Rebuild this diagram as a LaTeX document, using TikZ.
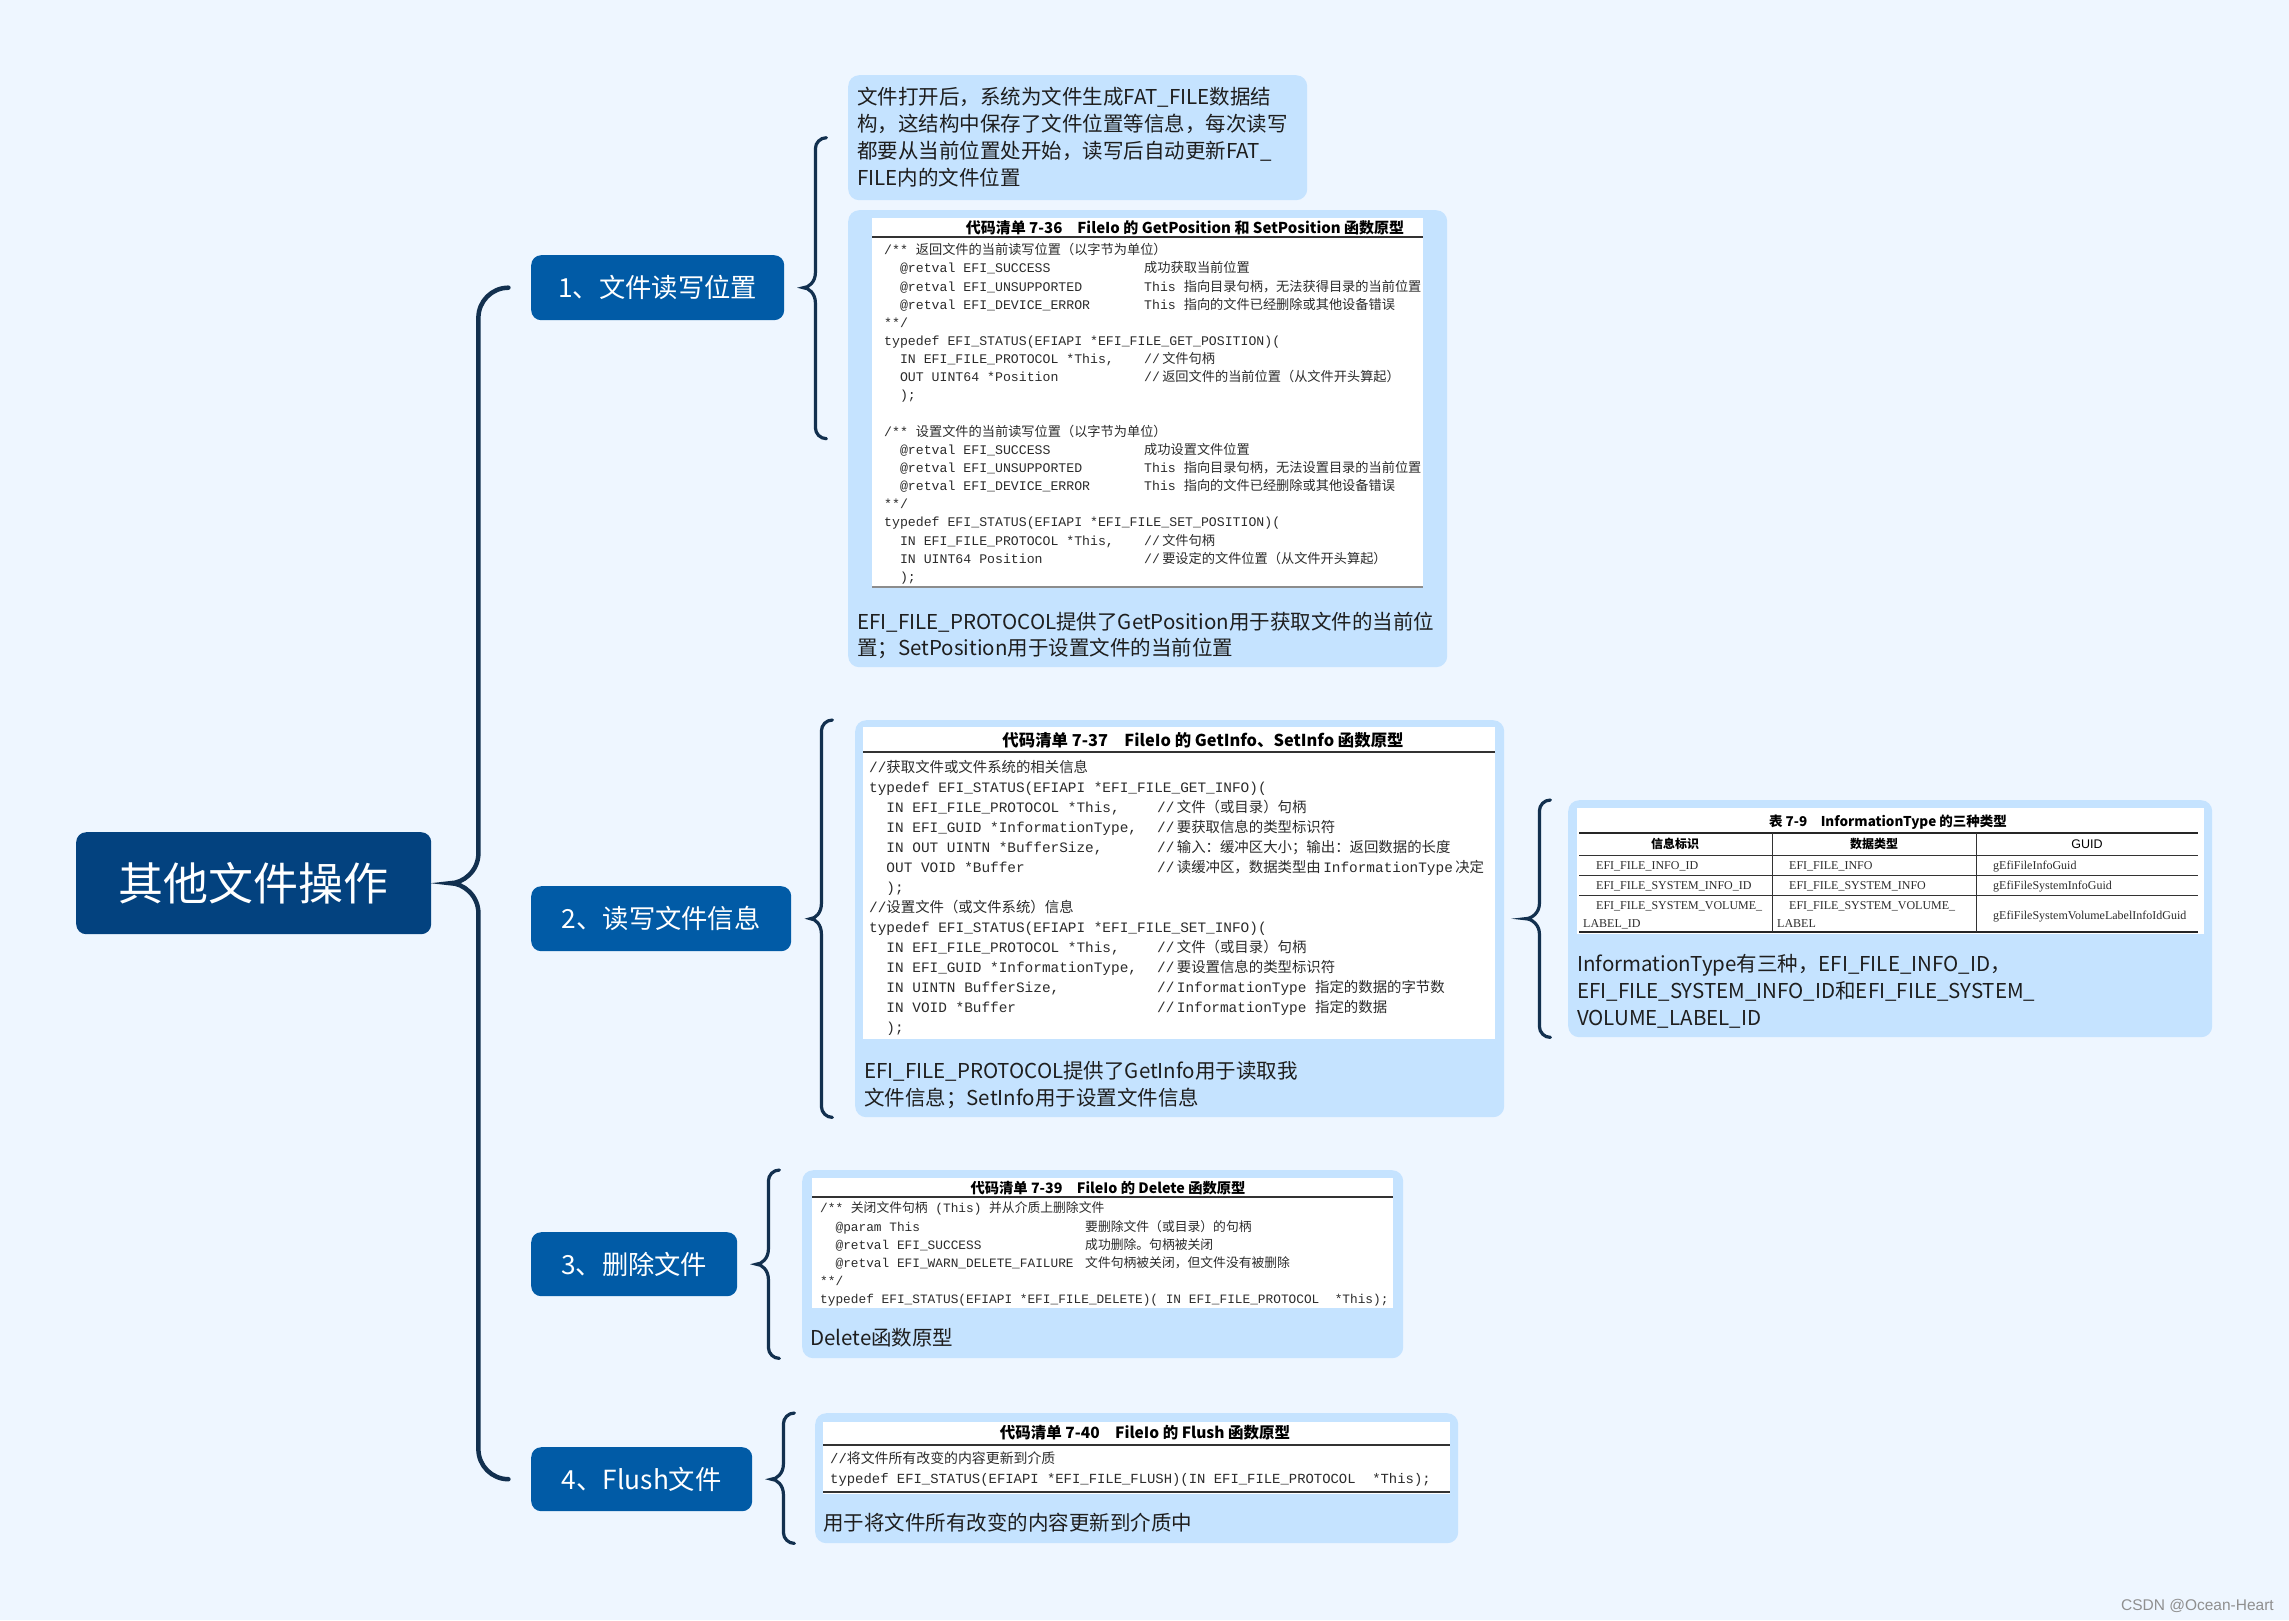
\documentclass[tikz,border=0pt]{standalone}
\usepackage{fontspec}
\setmainfont{Noto Sans CJK SC}
\newfontfamily\cjk{Noto Sans CJK SC}
\newfontfamily\mono{Liberation Mono}
\newfontfamily\tms{Liberation Serif}
\newfontfamily\arialf{Liberation Sans}
\usetikzlibrary{calc}
\definecolor{bgc}{HTML}{EEF6FF}
\definecolor{rootblue}{HTML}{03427F}
\definecolor{branchblue}{HTML}{015BA6}
\definecolor{childblue}{HTML}{C5E3FF}
\definecolor{bracec}{HTML}{12304F}
\definecolor{captc}{HTML}{1E1E1E}
\definecolor{codec}{HTML}{2B2B2B}
\definecolor{wmc}{HTML}{8F8F8F}
\newcommand\zh[1]{{\cjk #1}}
\newlength\colw
\newcommand\cx[1]{\strut #1}
\newcommand\cl[2]{\strut\makebox[\colw][l]{\hspace*{1.2em}#1}#2}
\newcommand\bracket[8]{%
\draw[#1] let \p1=(#2.east), \p2=(#3), \p3=(#4) in
 (\x1+#5pt+#6pt+#7pt,\y2)
 .. controls (\x1+#5pt+#6pt+0.45*#7pt,\y2) and (\x1+#5pt+#6pt,\y2-0.45*#7pt) .. (\x1+#5pt+#6pt,\y2-#7pt)
 -- (\x1+#5pt+#6pt,\y1+#8pt)
 .. controls (\x1+#5pt+#6pt,\y1+0.4*#8pt) and (\x1+#5pt+0.45*#6pt,\y1) .. (\x1+#5pt,\y1)
 .. controls (\x1+#5pt+0.45*#6pt,\y1) and (\x1+#5pt+#6pt,\y1-0.4*#8pt) .. (\x1+#5pt+#6pt,\y1-#8pt)
 -- (\x1+#5pt+#6pt,\y3+#7pt)
 .. controls (\x1+#5pt+#6pt,\y3+0.45*#7pt) and (\x1+#5pt+#6pt+0.45*#7pt,\y3) .. (\x1+#5pt+#6pt+#7pt,\y3);%
}
\begin{document}
\begin{tikzpicture}[x=1pt,y=-1pt,
  rootbox/.style={fill=rootblue, rounded corners=10pt, text=white, inner sep=0pt, anchor=north west, font=\cjk\fontsize{45}{50}\selectfont},
  branchbox/.style={fill=branchblue, rounded corners=10pt, text=white, inner sep=0pt, anchor=north west, font=\cjk\fontsize{26.3}{30}\selectfont},
  childbox/.style={fill=childblue, rounded corners=11pt, inner sep=0pt, anchor=north west},
  panel/.style={fill=white, inner sep=0pt, anchor=north west},
  ttl/.style={inner sep=0pt, text=black, font=\cjk\bfseries\fontsize{#1}{18}\selectfont},
  codetext/.style={anchor=north west, align=left, inner sep=0pt, text=codec},
  captext/.style={anchor=north west, align=left, inner sep=0pt, text=captc},
  tcell/.style={anchor=base west, inner sep=0pt, text=codec, font=\tms\fontsize{12}{14}\selectfont},
  thead/.style={inner sep=0pt, text=black, font=\cjk\bfseries\fontsize{12}{14}\selectfont},
  mainbr/.style={draw=bracec, line width=4.5pt, line cap=round},
  subbr/.style={draw=bracec, line width=3.2pt, line cap=round},
  titlerule/.style={draw=black!80, line width=2.2pt},
  thinrule/.style={draw=black!80, line width=0.9pt}
]
\useasboundingbox (0,0) rectangle (2289,1620);
\fill[bgc] (0,0) rectangle (2289,1620);

% ---------- root and branches
\node[rootbox, minimum width=355pt, minimum height=102pt] (root) at (76,832) {其他文件操作};
\node[branchbox, minimum width=253pt, minimum height=65pt] (b1) at (531,255) {1、文件读写位置};
\node[branchbox, minimum width=260pt, minimum height=65pt] (b2) at (531,886) {2、读写文件信息};
\node[branchbox, minimum width=206pt, minimum height=64pt] (b3) at (531,1232) {3、删除文件};
\node[branchbox, minimum width=221pt, minimum height=64pt] (b4) at (531,1447) {4、Flush文件};

% ---------- child boxes
\node[childbox, minimum width=459pt, minimum height=125pt] (c1a) at (848,75) {};
\node[childbox, minimum width=599pt, minimum height=457pt] (c1b) at (848,210) {};
\node[childbox, minimum width=649pt, minimum height=397pt] (c2a) at (855,720) {};
\node[childbox, minimum width=644pt, minimum height=237pt] (c2b) at (1568,800) {};
\node[childbox, minimum width=601pt, minimum height=188pt] (c3) at (802,1170) {};
\node[childbox, minimum width=643pt, minimum height=130pt] (c4) at (815,1413) {};

% ---------- braces
\bracket{mainbr}{root}{b1.west}{b4.west}{19}{28}{30}{30}
\bracket{subbr}{b1}{c1a.west}{c1b.west}{19}{12}{11}{15}
\bracket{subbr}{b2}{c2a.north west}{c2a.south west}{19}{11}{11}{15}
\bracket{subbr}{c2a}{c2b.north west}{c2b.south west}{21}{14}{11}{15}
\bracket{subbr}{b3}{c3.north west}{c3.south west}{19}{12}{11}{15}
\bracket{subbr}{b4}{c4.north west}{c4.south west}{19}{12}{11}{15}

% ---------- box 1a text
\node[captext, font=\cjk\fontsize{20.5}{26.8}\selectfont] (q1) at (857,86) {\strut 文件打开后，系统为文件生成FAT\_FILE数据结\\构，这结构中保存了文件位置等信息，每次读写\\都要从当前位置处开始，读写后自动更新FAT\_\\FILE内的文件位置};

% ---------- box 1b: code 7-36
\node[panel, minimum width=551pt, minimum height=370pt] (p1) at (872,218) {};
\node[ttl=15] (t1) at (1185,228) {代码清单 7-36\quad FileIo 的 GetPosition 和 SetPosition 函数原型};
\draw[titlerule] (872,237) -- (1423,237);
\draw[draw=black!45, line width=1.5pt] (872,587) -- (1423,587);
\setlength\colw{260pt}
\node[codetext, font=\mono\fontsize{13.2}{18.15}\selectfont] (k1) at (884,241.8) {%
\cx{/** \zh{返回文件的当前读写位置（以字节为单位）}}\\
\cl{@retval EFI\_SUCCESS}{\zh{成功获取当前位置}}\\
\cl{@retval EFI\_UNSUPPORTED}{This \zh{指向目录句柄，无法获得目录的当前位置}}\\
\cl{@retval EFI\_DEVICE\_ERROR}{This \zh{指向的文件已经删除或其他设备错误}}\\
\cx{**/}\\
\cx{typedef EFI\_STATUS(EFIAPI *EFI\_FILE\_GET\_POSITION)(}\\
\cl{IN EFI\_FILE\_PROTOCOL *This,}{//\,\zh{文件句柄}}\\
\cl{OUT UINT64 *Position}{//\,\zh{返回文件的当前位置（从文件开头算起）}}\\
\cl{);}{}\\
\cx{}\\
\cx{/** \zh{设置文件的当前读写位置（以字节为单位）}}\\
\cl{@retval EFI\_SUCCESS}{\zh{成功设置文件位置}}\\
\cl{@retval EFI\_UNSUPPORTED}{This \zh{指向目录句柄，无法设置目录的当前位置}}\\
\cl{@retval EFI\_DEVICE\_ERROR}{This \zh{指向的文件已经删除或其他设备错误}}\\
\cx{**/}\\
\cx{typedef EFI\_STATUS(EFIAPI *EFI\_FILE\_SET\_POSITION)(}\\
\cl{IN EFI\_FILE\_PROTOCOL *This,}{//\,\zh{文件句柄}}\\
\cl{IN UINT64 Position}{//\,\zh{要设定的文件位置（从文件开头算起）}}\\
\cl{);}{}};
\node[captext, font=\cjk\fontsize{20.5}{26}\selectfont] (q2) at (857,611.5) {\strut EFI\_FILE\_PROTOCOL提供了GetPosition用于获取文件的当前位\\置；SetPosition用于设置文件的当前位置};

% ---------- box 2a: code 7-37
\node[panel, minimum width=632pt, minimum height=312pt] (p2) at (863,727) {};
\node[ttl=16.4] (t2) at (1203,740) {代码清单 7-37\quad FileIo 的 GetInfo、SetInfo 函数原型};
\draw[titlerule] (863,752) -- (1495,752);
\setlength\colw{288pt}
\node[codetext, font=\mono\fontsize{14.4}{20}\selectfont] (k2) at (869,758) {%
\cx{//\zh{获取文件或文件系统的相关信息}}\\
\cx{typedef EFI\_STATUS(EFIAPI *EFI\_FILE\_GET\_INFO)(}\\
\cl{IN EFI\_FILE\_PROTOCOL *This,}{//\,\zh{文件（或目录）句柄}}\\
\cl{IN EFI\_GUID *InformationType,}{//\,\zh{要获取信息的类型标识符}}\\
\cl{IN OUT UINTN *BufferSize,}{//\,\zh{输入：缓冲区大小；输出：返回数据的长度}}\\
\cl{OUT VOID *Buffer}{//\,\zh{读缓冲区，数据类型由}\,InformationType\,\zh{决定}}\\
\cl{);}{}\\
\cx{//\zh{设置文件（或文件系统）信息}}\\
\cx{typedef EFI\_STATUS(EFIAPI *EFI\_FILE\_SET\_INFO)(}\\
\cl{IN EFI\_FILE\_PROTOCOL *This,}{//\,\zh{文件（或目录）句柄}}\\
\cl{IN EFI\_GUID *InformationType,}{//\,\zh{要设置信息的类型标识符}}\\
\cl{IN UINTN BufferSize,}{//\,InformationType \zh{指定的数据的字节数}}\\
\cl{IN VOID *Buffer}{//\,InformationType \zh{指定的数据}}\\
\cl{);}{}};
\node[captext, font=\cjk\fontsize{20.5}{26.8}\selectfont] (q3) at (864,1059.5) {\strut EFI\_FILE\_PROTOCOL提供了GetInfo用于读取我\\文件信息；SetInfo用于设置文件信息};

% ---------- box 2b: table 7-9
\node[panel, minimum width=627pt, minimum height=126pt] (p3) at (1577,808) {};
\node[ttl=13.5] (t3) at (1888,822) {表 7-9\quad InformationType 的三种类型};
\draw[draw=black!85, line width=2pt] (1579,833) -- (2198,833);
\draw[thinrule] (1579,855) -- (2198,855);
\draw[thinrule] (1579,875) -- (2198,875);
\draw[thinrule] (1579,895) -- (2198,895);
\draw[draw=black!85, line width=2pt] (1579,932) -- (2198,932);
\draw[thinrule] (1772,833) -- (1772,932);
\draw[thinrule] (1976,833) -- (1976,932);
\node[thead] (h1) at (1675,844) {信息标识};
\node[thead] (h2) at (1874,844) {数据类型};
\node[inner sep=0pt, font=\arialf\fontsize{12.5}{14}\selectfont] (h3) at (2087,844) {GUID};
\node[tcell] (r11) at (1596,869) {EFI\_FILE\_INFO\_ID};
\node[tcell] (r12) at (1789,869) {EFI\_FILE\_INFO};
\node[tcell] (r13) at (1993,869) {gEfiFileInfoGuid};
\node[tcell] (r21) at (1596,889) {EFI\_FILE\_SYSTEM\_INFO\_ID};
\node[tcell] (r22) at (1789,889) {EFI\_FILE\_SYSTEM\_INFO};
\node[tcell] (r23) at (1993,889) {gEfiFileSystemInfoGuid};
\node[tcell] (r31) at (1596,909) {EFI\_FILE\_SYSTEM\_VOLUME\_};
\node[tcell] (r31b) at (1583,927) {LABEL\_ID};
\node[tcell] (r32) at (1789,909) {EFI\_FILE\_SYSTEM\_VOLUME\_};
\node[tcell] (r32b) at (1777,927) {LABEL};
\node[tcell] (r33) at (1993,919) {gEfiFileSystemVolumeLabelInfoIdGuid};
\node[captext, font=\cjk\fontsize{20.5}{26.8}\selectfont] (q4) at (1577,952.5) {\strut InformationType有三种，EFI\_FILE\_INFO\_ID，\\EFI\_FILE\_SYSTEM\_INFO\_ID和EFI\_FILE\_SYSTEM\_\\VOLUME\_LABEL\_ID};

% ---------- box 3: code 7-39
\node[panel, minimum width=581pt, minimum height=130pt] (p4) at (812,1178) {};
\node[ttl=14.3] (t4) at (1108,1188) {代码清单 7-39\quad FileIo 的 Delete 函数原型};
\draw[titlerule] (812,1197) -- (1393,1197);
\setlength\colw{265pt}
\node[codetext, font=\mono\fontsize{12.8}{18.2}\selectfont] (k3) at (820,1200) {%
\cx{/** \zh{关闭文件句柄} (This) \zh{并从介质上删除文件}}\\
\cl{@param This}{\zh{要删除文件（或目录）的句柄}}\\
\cl{@retval EFI\_SUCCESS}{\zh{成功删除。句柄被关闭}}\\
\cl{@retval EFI\_WARN\_DELETE\_FAILURE}{\zh{文件句柄被关闭，但文件没有被删除}}\\
\cx{**/}\\
\cx{typedef EFI\_STATUS(EFIAPI *EFI\_FILE\_DELETE)( IN EFI\_FILE\_PROTOCOL\ \ *This);}};
\node[captext, font=\cjk\fontsize{20.5}{26}\selectfont] (q5) at (810,1327.5) {\strut Delete函数原型};

% ---------- box 4: code 7-40
\node[panel, minimum width=627pt, minimum height=72pt] (p5) at (823,1422) {};
\node[ttl=15.5] (t5) at (1145,1433) {代码清单 7-40\quad FileIo 的 Flush 函数原型};
\draw[titlerule] (823,1445) -- (1450,1445);
\draw[titlerule] (823,1492) -- (1450,1492);
\node[codetext, font=\mono\fontsize{13.9}{20}\selectfont] (k4) at (830,1449) {%
\cx{//\zh{将文件所有改变的内容更新到介质}}\\
\cx{typedef EFI\_STATUS(EFIAPI *EFI\_FILE\_FLUSH)(IN EFI\_FILE\_PROTOCOL\ \ *This);}};
\node[captext, font=\cjk\fontsize{20.5}{26}\selectfont] (q6) at (823,1512.5) {\strut 用于将文件所有改变的内容更新到介质中};

% ---------- watermark
\node[anchor=base east, inner sep=0pt, text=wmc, font=\arialf\fontsize{15.5}{18}\selectfont] (wm) at (2274,1610) {CSDN @Ocean-Heart};
\end{tikzpicture}
\end{document}
